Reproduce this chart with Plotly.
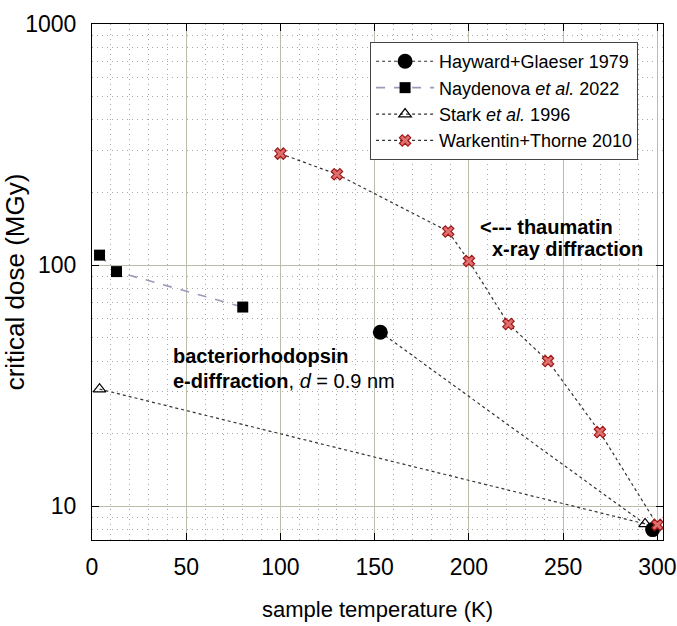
import plotly.graph_objects as go

# Data
hg_T = [153, 297.5]
hg_D = [52.7, 8.0]

nay_T = [4, 13, 80]
nay_D = [110, 94, 67]

stark_T = [4, 293.5]
stark_D = [30.6, 8.45]

wt_T = [100, 130, 189, 200, 221, 242, 269.5, 300]
wt_D = [290, 238, 138, 104, 57, 40, 20.3, 8.37]

x_ticks = [0, 50, 100, 150, 200, 250, 300]
y_ticks = [10, 100, 1000]
y_minor = [m * 10 ** e for e in range(0, 3) for m in range(2, 10)]

FONT = "Liberation Sans, Arial, sans-serif"

fig = go.Figure()

fig.add_trace(go.Scatter(
    x=hg_T, y=hg_D, mode="lines+markers", name="Hayward+Glaeser 1979",
    line=dict(color="#333333", width=1.2, dash="dot"),
    marker=dict(symbol="circle", size=15, color="black"),
    cliponaxis=False))

fig.add_trace(go.Scatter(
    x=nay_T, y=nay_D, mode="lines+markers", name="Naydenova <i>et al.</i> 2022",
    line=dict(color="#9a9ab8", width=1.6, dash="dash"),
    marker=dict(symbol="square", size=11, color="black"),
    cliponaxis=False))

fig.add_trace(go.Scatter(
    x=stark_T, y=stark_D, mode="lines+markers", name="Stark <i>et al.</i> 1996",
    line=dict(color="#333333", width=1.2, dash="dot"),
    marker=dict(symbol="triangle-up-open", size=11, color="black", line=dict(width=1.2)),
    cliponaxis=False))

fig.add_trace(go.Scatter(
    x=wt_T, y=wt_D, mode="lines+markers", name="Warkentin+Thorne 2010",
    line=dict(color="#333333", width=1.2, dash="dot"),
    marker=dict(symbol="x", size=10, color="#e07070", line=dict(color="#a01818", width=1.2)),
    cliponaxis=False))

AF = dict(family=FONT, size=20, color="black")
fig.add_annotation(x=42, y=1.624, xref="x", yref="y", xanchor="left", yanchor="middle",
                   text="<b>bacteriorhodopsin</b>", showarrow=False, font=AF)
fig.add_annotation(x=42, y=1.52, xref="x", yref="y", xanchor="left", yanchor="middle",
                   text="<b>e-diffraction</b>, <i>d</i> = 0.9 nm", showarrow=False, font=AF)
fig.add_annotation(x=204.6, y=2.157, xref="x", yref="y", xanchor="left", yanchor="middle",
                   text="<b>&lt;--- thaumatin</b>", showarrow=False, font=AF)
fig.add_annotation(x=211, y=2.066, xref="x", yref="y", xanchor="left", yanchor="middle",
                   text="<b>x-ray diffraction</b>", showarrow=False, font=AF)

fig.update_layout(
    width=677, height=626,
    margin=dict(l=92, r=14, t=24, b=86, autoexpand=False),
    paper_bgcolor="white", plot_bgcolor="white",
    font=dict(family=FONT, size=22, color="black"),
    showlegend=True,
    legend=dict(x=0.487, y=0.965, xanchor="left", yanchor="top",
                bgcolor="white", bordercolor="#444444", borderwidth=1,
                font=dict(family=FONT, size=18, color="black"),
                itemwidth=58, tracegroupgap=0),
    xaxis=dict(
        range=[0, 303], tickvals=x_ticks, ticks="inside", ticklen=7, tickcolor="black",
        showgrid=True, gridcolor="#bcbcac", gridwidth=1.2,
        showline=True, linecolor="black", linewidth=1.2, mirror="ticks",
        zeroline=False, automargin=False,
        minor=dict(dtick=10, tick0=0, showgrid=True, gridcolor="#a8a8a8",
                   griddash="1px,4px", gridwidth=1, ticks=""),
        title=dict(text="sample temperature (K)", font=dict(size=22), standoff=22),
        ticklabelstandoff=6,
        tickfont=dict(size=23)),
    yaxis=dict(
        type="log", range=[0.86, 3], tickvals=y_ticks, ticktext=["10", "100", "1000"],
        ticks="inside", ticklen=7, tickcolor="black",
        showgrid=True, gridcolor="#bcbcac", gridwidth=1.2,
        showline=True, linecolor="black", linewidth=1.2, mirror="ticks",
        zeroline=False, automargin=False,
        minor=dict(tickvals=y_minor, showgrid=True, gridcolor="#a8a8a8",
                   griddash="1px,4px", gridwidth=1, ticks=""),
        title=dict(text="critical dose (MGy)", font=dict(size=26), standoff=10),
        ticklabelstandoff=10,
        tickfont=dict(size=23)),
)

fig.write_html("out.html")
